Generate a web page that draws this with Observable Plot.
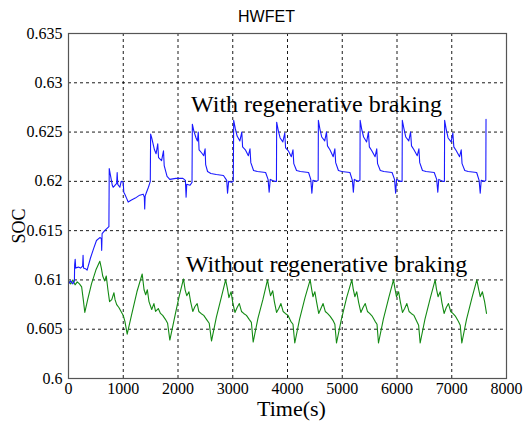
<!DOCTYPE html>
<html>
<head>
<meta charset="utf-8">
<script src="https://cdn.jsdelivr.net/npm/d3@7"></script>
<script src="https://cdn.jsdelivr.net/npm/@observablehq/plot@0.6"></script>
<style>
  html, body { margin: 0; padding: 0; background: #fff; }
  #chart svg { display: block; }
</style>
</head>
<body>
<div id="chart"></div>
<script>
const title = "HWFET";
const xLabel = "Time(s)";
const yLabel = "SOC";
const xTicks = [0, 1000, 2000, 3000, 4000, 5000, 6000, 7000, 8000];
const yTicks = [0.6, 0.605, 0.61, 0.615, 0.62, 0.625, 0.63, 0.635];
const seriesNames = ["With regenerative braking", "Without regenerative braking"];

// [time (s), SOC] — with regenerative braking
const withRegen = [
  [0,0.6096],[40,0.6099],[80,0.6096],[108,0.6099],[112,0.6115],[122,0.6121],[132,0.6112],[180,0.6113],
  [220,0.6112],[258,0.6114],[266,0.6125],[274,0.6112],[320,0.6111],[340,0.6110],[400,0.6122],[460,0.6132],
  [511,0.6140],[572,0.6143],[600,0.6142],[606,0.6130],[614,0.6147],[660,0.6150],[738,0.6154],[744,0.6213],
  [770,0.6205],[800,0.6196],[816,0.6194],[880,0.6198],[889,0.6209],[900,0.6197],[938,0.6194],[962,0.6200],
  [999,0.6199],[1010,0.6189],[1029,0.6187],[1060,0.6183],[1090,0.6179],[1150,0.6181],[1220,0.6183],[1300,0.6186],
  [1364,0.6187],[1385,0.6184],[1392,0.6172],[1400,0.6185],[1425,0.6189],[1460,0.6194],[1494,0.6200],
  [1500,0.6248],[1520,0.6244],[1570,0.6232],[1600,0.6228],[1630,0.6238],[1645,0.6224],[1700,0.6221],[1735,0.6231],
  [1748,0.6216],[1800,0.6205],[1850,0.6202],[1960,0.6203],[2090,0.6203],[2135,0.6201],[2148,0.6184],[2160,0.6197],
  [2220,0.6196],[2256,0.6199],
  [2262,0.6258],[2290,0.6251],[2330,0.6244],[2355,0.6241],[2370,0.6250],[2385,0.6232],[2430,0.6229],[2470,0.6226],
  [2495,0.6233],[2505,0.6217],[2540,0.6210],[2600,0.6208],[2700,0.6207],[2830,0.6206],[2890,0.6201],[2905,0.6188],
  [2925,0.6200],[2980,0.6199],[3010,0.6200],
  [3017,0.6262],[3045,0.6254],[3080,0.6246],[3130,0.6241],[3165,0.6250],[3180,0.6235],[3230,0.6232],[3285,0.6226],
  [3315,0.6233],[3330,0.6219],[3380,0.6211],[3450,0.6210],[3600,0.6209],[3645,0.6202],[3665,0.6189],[3685,0.6202],
  [3760,0.6200],[3798,0.6200],
  [3802,0.6260],[3830,0.6252],[3865,0.6244],[3915,0.6240],[3950,0.6249],[3965,0.6234],[4015,0.6231],[4070,0.6225],
  [4100,0.6232],[4115,0.6218],[4165,0.6211],[4235,0.6210],[4385,0.6209],[4425,0.6202],[4445,0.6188],[4465,0.6201],
  [4530,0.6200],[4560,0.6201],
  [4564,0.6262],[4592,0.6253],[4625,0.6245],[4680,0.6241],[4712,0.6250],[4730,0.6236],[4775,0.6232],[4835,0.6225],
  [4865,0.6233],[4880,0.6219],[4930,0.6211],[4990,0.6210],[5140,0.6209],[5185,0.6201],[5203,0.6189],[5220,0.6202],
  [5290,0.6200],[5323,0.6201],
  [5327,0.6262],[5355,0.6253],[5390,0.6245],[5445,0.6240],[5478,0.6250],[5495,0.6235],[5540,0.6231],[5600,0.6225],
  [5630,0.6233],[5645,0.6218],[5695,0.6211],[5760,0.6210],[5910,0.6209],[5955,0.6202],[5975,0.6188],[5993,0.6202],
  [6060,0.6200],[6093,0.6200],
  [6097,0.6262],[6125,0.6254],[6160,0.6245],[6215,0.6241],[6248,0.6250],[6265,0.6236],[6310,0.6232],[6370,0.6226],
  [6400,0.6233],[6415,0.6219],[6465,0.6211],[6530,0.6210],[6680,0.6209],[6725,0.6202],[6745,0.6189],[6763,0.6202],
  [6830,0.6200],[6866,0.6200],
  [6870,0.6262],[6898,0.6253],[6933,0.6244],[6988,0.6240],[7020,0.6249],[7038,0.6235],[7083,0.6231],[7143,0.6225],
  [7173,0.6232],[7188,0.6218],[7238,0.6211],[7300,0.6210],[7455,0.6209],[7500,0.6201],[7520,0.6188],[7538,0.6201],
  [7600,0.6200],[7622,0.6201],[7626,0.6263]
];

// [time (s), SOC] — without regenerative braking
const withoutRegen = [
  [0,0.6099],[40,0.6096],[80,0.6100],[120,0.6095],[160,0.6098],[200,0.6096],[240,0.6093],[270,0.6080],
  [298,0.6067],[350,0.6080],[420,0.6096],[500,0.6110],[572,0.6119],[600,0.6112],[625,0.6104],[660,0.6099],
  [690,0.6104],[720,0.6090],[750,0.6078],[790,0.6080],[830,0.6087],[850,0.6080],[880,0.6075],[920,0.6072],
  [960,0.6068],[1000,0.6064],[1030,0.6058],[1072,0.6045],[1150,0.6064],[1250,0.6088],[1346,0.6106],[1380,0.6090],
  [1410,0.6085],[1440,0.6090],[1470,0.6078],[1520,0.6070],[1560,0.6076],[1590,0.6068],[1640,0.6071],[1680,0.6066],
  [1720,0.6064],[1770,0.6060],[1810,0.6056],[1851,0.6039],[1950,0.6065],[2020,0.6083],[2100,0.6101],[2130,0.6090],
  [2160,0.6084],[2200,0.6088],[2230,0.6078],[2270,0.6068],[2310,0.6073],[2350,0.6076],[2380,0.6068],[2420,0.6066],
  [2470,0.6064],[2520,0.6060],[2570,0.6056],[2612,0.6038],[2700,0.6062],[2790,0.6082],[2870,0.6100],[2900,0.6092],
  [2930,0.6082],[2970,0.6088],[3000,0.6077],[3040,0.6067],[3080,0.6072],[3120,0.6076],[3160,0.6068],[3200,0.6066],
  [3250,0.6064],[3300,0.6060],[3340,0.6057],[3373,0.6037],[3460,0.6061],[3550,0.6080],[3635,0.6100],[3660,0.6092],
  [3690,0.6084],[3730,0.6089],[3760,0.6078],[3800,0.6067],[3840,0.6071],[3880,0.6076],[3920,0.6068],[3960,0.6066],
  [4010,0.6064],[4060,0.6058],[4100,0.6055],[4133,0.6036],[4220,0.6060],[4320,0.6082],[4414,0.6100],[4440,0.6091],
  [4465,0.6083],[4500,0.6088],[4530,0.6078],[4570,0.6066],[4610,0.6071],[4650,0.6076],[4690,0.6068],[4730,0.6066],
  [4780,0.6063],[4830,0.6059],[4865,0.6055],[4895,0.6036],[4980,0.6059],[5080,0.6082],[5175,0.6100],[5200,0.6091],
  [5230,0.6083],[5265,0.6088],[5300,0.6077],[5340,0.6067],[5380,0.6072],[5420,0.6076],[5460,0.6068],[5500,0.6066],
  [5550,0.6063],[5600,0.6058],[5635,0.6055],[5662,0.6036],[5750,0.6060],[5850,0.6082],[5936,0.6100],[5960,0.6092],
  [5990,0.6083],[6030,0.6088],[6060,0.6078],[6100,0.6067],[6140,0.6071],[6180,0.6076],[6220,0.6068],[6260,0.6066],
  [6310,0.6064],[6360,0.6058],[6395,0.6054],[6423,0.6036],[6510,0.6060],[6610,0.6082],[6697,0.6100],[6720,0.6091],
  [6750,0.6083],[6790,0.6088],[6820,0.6077],[6860,0.6066],[6900,0.6072],[6940,0.6076],[6980,0.6068],[7020,0.6066],
  [7070,0.6063],[7120,0.6058],[7155,0.6054],[7184,0.6036],[7270,0.6060],[7370,0.6082],[7458,0.6100],[7490,0.6091],
  [7520,0.6083],[7560,0.6088],[7600,0.6078],[7635,0.6066]
];

const serif = "'Liberation Serif', 'Times New Roman', serif";
const sans = "'Liberation Sans', Arial, sans-serif";

const chart = Plot.plot({
  width: 524,
  height: 421,
  marginTop: 33,
  marginLeft: 68,
  marginRight: 18,
  marginBottom: 43,
  style: { fontFamily: serif, fontSize: "16px", color: "#000", background: "#fff", overflow: "visible" },
  x: { domain: [0, 8000], ticks: xTicks, tickSize: 0, tickPadding: 4, tickFormat: d => String(d), label: null },
  y: { domain: [0.6, 0.635], ticks: yTicks, tickSize: 0, tickPadding: 6, tickFormat: d => String(+d.toFixed(3)), label: null },
  marks: [
    Plot.ruleX(xTicks.slice(1, -1), { stroke: "#000", strokeWidth: 0.9, strokeDasharray: "3,3" }),
    Plot.ruleY(yTicks.slice(1, -1), { stroke: "#000", strokeWidth: 0.9, strokeDasharray: "3,3" }),
    Plot.line(withoutRegen, { x: d => d[0], y: d => d[1], stroke: "#138a13", strokeWidth: 1.1 }),
    Plot.line(withRegen, { x: d => d[0], y: d => d[1], stroke: "#1a1aff", strokeWidth: 1.1 }),
    Plot.frame({ stroke: "#555", strokeWidth: 1.2 }),
    Plot.text([seriesNames[0]], { x: 4530, y: 0.62708, text: d => d, textAnchor: "middle", lineAnchor: "bottom", fontSize: 24, fontFamily: serif, fill: "#000" }),
    Plot.text([seriesNames[1]], { x: 4712, y: 0.61078, text: d => d, textAnchor: "middle", lineAnchor: "bottom", fontSize: 24, fontFamily: serif, fill: "#000" }),
    Plot.text([title], { frameAnchor: "top", text: d => d, dx: -21, dy: -12, lineAnchor: "bottom", fontSize: 16, fontFamily: sans, fill: "#000" }),
    Plot.text([xLabel], { frameAnchor: "bottom", text: d => d, dx: 4, dy: 37, lineAnchor: "bottom", fontSize: 22, fontFamily: serif, fill: "#000" }),
    Plot.text([yLabel], { frameAnchor: "left", text: d => d, dx: -49, dy: 20, rotate: -90, lineAnchor: "middle", textAnchor: "middle", fontSize: 18, fontFamily: serif, fill: "#000" })
  ]
});
document.getElementById("chart").appendChild(chart);
</script>
</body>
</html>
